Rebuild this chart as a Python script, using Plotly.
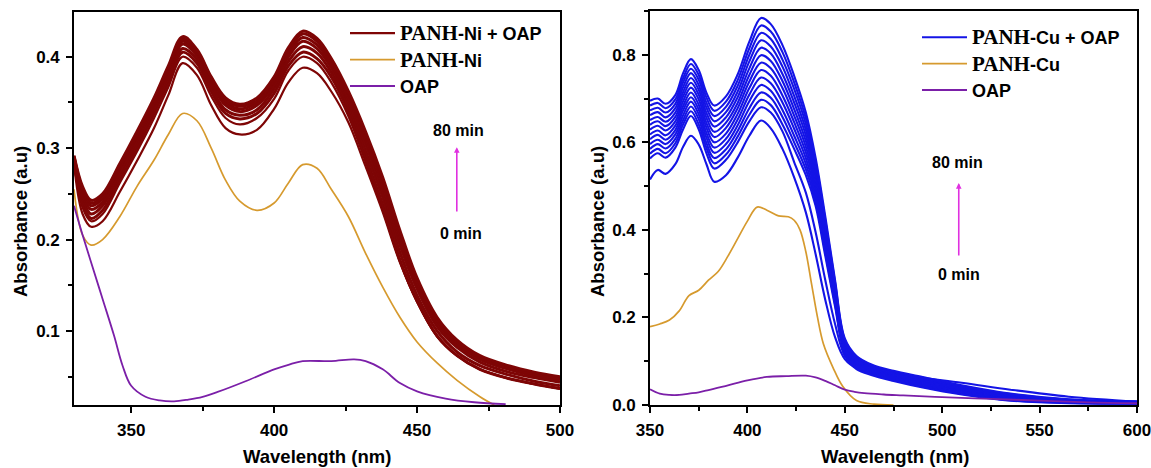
import plotly.graph_objects as go

# ---------------- data: PANH-Ni panel ----------------
# columns: wavelength, 0 min, next, then the dense band of later spectra (up to 80 min)
ni_spectra = [
    (330, 0.283, 0.285, 0.285, 0.287, 0.289, 0.290, 0.291, 0.292),
    (333, 0.228, 0.235, 0.240, 0.245, 0.249, 0.253, 0.255, 0.258),
    (336, 0.214, 0.220, 0.223, 0.228, 0.233, 0.237, 0.240, 0.243),
    (340, 0.220, 0.228, 0.232, 0.237, 0.241, 0.245, 0.247, 0.250),
    (346, 0.252, 0.262, 0.265, 0.270, 0.274, 0.278, 0.280, 0.283),
    (352, 0.286, 0.296, 0.300, 0.305, 0.309, 0.313, 0.315, 0.318),
    (358, 0.322, 0.333, 0.338, 0.342, 0.347, 0.350, 0.352, 0.355),
    (363, 0.358, 0.367, 0.372, 0.377, 0.381, 0.385, 0.387, 0.390),
    (368, 0.393, 0.400, 0.405, 0.409, 0.414, 0.417, 0.419, 0.422),
    (373, 0.380, 0.388, 0.393, 0.397, 0.401, 0.404, 0.406, 0.408),
    (378, 0.347, 0.357, 0.362, 0.366, 0.370, 0.373, 0.376, 0.378),
    (383, 0.322, 0.333, 0.338, 0.342, 0.347, 0.350, 0.352, 0.355),
    (388, 0.315, 0.326, 0.332, 0.336, 0.340, 0.343, 0.346, 0.348),
    (394, 0.320, 0.333, 0.338, 0.342, 0.347, 0.350, 0.352, 0.355),
    (400, 0.343, 0.354, 0.360, 0.365, 0.369, 0.373, 0.375, 0.378),
    (405, 0.372, 0.385, 0.390, 0.395, 0.400, 0.404, 0.407, 0.410),
    (410, 0.388, 0.400, 0.405, 0.411, 0.417, 0.421, 0.425, 0.428),
    (415, 0.382, 0.393, 0.398, 0.404, 0.409, 0.413, 0.417, 0.420),
    (420, 0.362, 0.372, 0.378, 0.383, 0.388, 0.392, 0.395, 0.398),
    (426, 0.328, 0.335, 0.340, 0.346, 0.351, 0.355, 0.359, 0.362),
    (432, 0.280, 0.285, 0.290, 0.297, 0.304, 0.310, 0.314, 0.318),
    (438, 0.230, 0.233, 0.238, 0.246, 0.253, 0.259, 0.264, 0.268),
    (444, 0.175, 0.176, 0.178, 0.186, 0.194, 0.200, 0.205, 0.210),
    (450, 0.132, 0.132, 0.133, 0.139, 0.146, 0.151, 0.154, 0.158),
    (457, 0.094, 0.094, 0.095, 0.100, 0.105, 0.109, 0.112, 0.115),
    (464, 0.073, 0.073, 0.073, 0.077, 0.082, 0.085, 0.087, 0.090),
    (472, 0.058, 0.058, 0.058, 0.062, 0.066, 0.069, 0.071, 0.073),
    (482, 0.048, 0.048, 0.048, 0.052, 0.055, 0.058, 0.060, 0.062),
    (491, 0.042, 0.042, 0.042, 0.045, 0.049, 0.051, 0.053, 0.055),
    (500, 0.037, 0.037, 0.037, 0.040, 0.044, 0.046, 0.048, 0.050),
]

ni_panh_wl = [330, 333, 336, 340, 346, 352, 358, 363, 368, 373, 378, 383, 388, 394,
              400, 405, 410, 415, 420, 426, 432, 438, 444, 450, 457, 464, 472, 477]
ni_panh = [0.255, 0.205, 0.194, 0.200, 0.225, 0.258, 0.287, 0.315, 0.338, 0.330, 0.300,
           0.265, 0.242, 0.232, 0.240, 0.262, 0.282, 0.278, 0.255, 0.225, 0.185, 0.148,
           0.115, 0.088, 0.065, 0.046, 0.028, 0.019]

oap_ni_wl = [330, 333, 336, 340, 344, 347, 350, 355, 360, 365, 370, 375, 380, 390, 400,
             405, 410, 420, 428, 432, 438, 444, 450, 460, 470, 481]
oap_ni = [0.237, 0.205, 0.175, 0.135, 0.095, 0.062, 0.040, 0.028, 0.024, 0.023, 0.025,
          0.028, 0.033, 0.045, 0.058, 0.063, 0.067, 0.067, 0.069, 0.067, 0.058, 0.043,
          0.034, 0.026, 0.022, 0.020]

# ---------------- data: PANH-Cu panel ----------------
# columns: wavelength, 0 min, then successive spectra up to 80 min
cu_spectra = [
    (350, 0.515, 0.563, 0.574, 0.585, 0.596, 0.607, 0.618, 0.629, 0.640, 0.651, 0.662, 0.673, 0.684, 0.695),
    (354, 0.537, 0.575, 0.585, 0.596, 0.606, 0.617, 0.627, 0.638, 0.648, 0.658, 0.669, 0.679, 0.690, 0.700),
    (358, 0.528, 0.565, 0.575, 0.586, 0.596, 0.606, 0.616, 0.627, 0.637, 0.647, 0.657, 0.668, 0.678, 0.688),
    (363, 0.550, 0.588, 0.598, 0.608, 0.618, 0.628, 0.638, 0.648, 0.658, 0.668, 0.678, 0.688, 0.698, 0.708),
    (367, 0.590, 0.630, 0.641, 0.651, 0.662, 0.673, 0.683, 0.694, 0.705, 0.715, 0.726, 0.737, 0.747, 0.758),
    (371, 0.615, 0.660, 0.671, 0.682, 0.693, 0.703, 0.714, 0.725, 0.736, 0.747, 0.758, 0.768, 0.779, 0.790),
    (375, 0.595, 0.630, 0.641, 0.653, 0.664, 0.675, 0.686, 0.698, 0.709, 0.720, 0.731, 0.743, 0.754, 0.765),
    (379, 0.550, 0.575, 0.587, 0.598, 0.610, 0.621, 0.633, 0.644, 0.656, 0.667, 0.679, 0.690, 0.702, 0.713),
    (383, 0.510, 0.540, 0.552, 0.564, 0.576, 0.588, 0.600, 0.612, 0.624, 0.636, 0.648, 0.660, 0.672, 0.684),
    (389, 0.525, 0.560, 0.572, 0.584, 0.596, 0.608, 0.620, 0.633, 0.645, 0.657, 0.669, 0.681, 0.693, 0.705),
    (395, 0.565, 0.600, 0.613, 0.626, 0.639, 0.652, 0.665, 0.678, 0.690, 0.703, 0.716, 0.729, 0.742, 0.755),
    (401, 0.615, 0.648, 0.663, 0.678, 0.694, 0.709, 0.724, 0.739, 0.754, 0.769, 0.785, 0.800, 0.815, 0.830),
    (407, 0.650, 0.680, 0.697, 0.714, 0.731, 0.748, 0.765, 0.782, 0.799, 0.816, 0.833, 0.850, 0.867, 0.884),
    (412, 0.632, 0.668, 0.685, 0.702, 0.718, 0.735, 0.752, 0.769, 0.786, 0.803, 0.819, 0.836, 0.853, 0.870),
    (418, 0.585, 0.625, 0.641, 0.658, 0.674, 0.691, 0.707, 0.724, 0.740, 0.756, 0.773, 0.789, 0.806, 0.822),
    (424, 0.520, 0.555, 0.585, 0.600, 0.615, 0.631, 0.646, 0.661, 0.676, 0.691, 0.706, 0.722, 0.737, 0.752),
    (430, 0.440, 0.485, 0.525, 0.538, 0.551, 0.564, 0.577, 0.590, 0.603, 0.616, 0.629, 0.642, 0.655, 0.668),
    (435, 0.345, 0.395, 0.455, 0.465, 0.475, 0.485, 0.495, 0.505, 0.515, 0.525, 0.535, 0.545, 0.555, 0.565),
    (440, 0.240, 0.285, 0.340, 0.348, 0.356, 0.365, 0.373, 0.381, 0.389, 0.397, 0.405, 0.414, 0.422, 0.430),
    (445, 0.155, 0.185, 0.225, 0.230, 0.236, 0.241, 0.247, 0.252, 0.258, 0.263, 0.269, 0.274, 0.280, 0.285),
    (450, 0.105, 0.112, 0.118, 0.121, 0.124, 0.127, 0.130, 0.133, 0.137, 0.140, 0.143, 0.146, 0.149, 0.152),
    (456, 0.085, 0.082, 0.085, 0.087, 0.090, 0.092, 0.095, 0.097, 0.100, 0.102, 0.105, 0.107, 0.110, 0.112),
    (464, 0.080, 0.068, 0.070, 0.072, 0.074, 0.076, 0.078, 0.080, 0.082, 0.084, 0.086, 0.088, 0.090, 0.092),
    (475, 0.072, 0.055, 0.057, 0.059, 0.061, 0.063, 0.065, 0.067, 0.068, 0.070, 0.072, 0.074, 0.076, 0.078),
    (490, 0.062, 0.040, 0.042, 0.044, 0.046, 0.048, 0.050, 0.052, 0.054, 0.056, 0.058, 0.060, 0.062, 0.064),
    (510, 0.051, 0.024, 0.026, 0.028, 0.029, 0.031, 0.033, 0.035, 0.036, 0.038, 0.040, 0.042, 0.043, 0.045),
    (535, 0.035, 0.010, 0.011, 0.013, 0.014, 0.015, 0.017, 0.018, 0.019, 0.021, 0.022, 0.023, 0.025, 0.026),
    (565, 0.019, 0.004, 0.005, 0.006, 0.006, 0.007, 0.008, 0.009, 0.009, 0.010, 0.011, 0.012, 0.012, 0.013),
    (600, 0.008, 0.003, 0.003, 0.004, 0.004, 0.005, 0.005, 0.005, 0.006, 0.006, 0.007, 0.007, 0.008, 0.008),
]

cu_panh_wl = [350, 355, 360, 365, 370, 375, 380, 385, 390, 395, 400, 405, 410, 416, 421,
              424, 427, 430, 433, 436, 439, 444, 449, 456, 465, 475]
cu_panh = [0.179, 0.185, 0.194, 0.215, 0.250, 0.262, 0.285, 0.305, 0.340, 0.380, 0.420,
           0.452, 0.445, 0.432, 0.430, 0.422, 0.400, 0.350, 0.275, 0.200, 0.140, 0.085,
           0.042, 0.010, 0.002, 0.000]

oap_cu_wl = [350, 355, 360, 365, 370, 375, 380, 390, 400, 410, 420, 430, 435, 440, 445,
             450, 455, 460, 470, 480, 500, 525, 550, 575, 600]
oap_cu = [0.036, 0.026, 0.023, 0.023, 0.026, 0.029, 0.034, 0.045, 0.056, 0.064, 0.066,
          0.067, 0.063, 0.055, 0.045, 0.035, 0.030, 0.027, 0.024, 0.022, 0.018, 0.014,
          0.010, 0.006, 0.004]

ni_x_ticks = [350, 400, 450, 500]
cu_x_ticks = [350, 400, 450, 500, 550, 600]

# ---------------- styles ----------------
MAROON = "#7E0505"
BLUE = "#1414E6"
ORANGE = "#D69A2E"
PURPLE = "#7B1FA8"
MAGENTA = "#E030E0"
SANS = "Liberation Sans"
SERIF = "Liberation Serif"


def serif(word):
    return f'<span style="font-family:{SERIF};font-size:21px">{word}</span>'


fig = go.Figure()

ni_wl = [r[0] for r in ni_spectra]
for k in range(1, len(ni_spectra[0])):
    fig.add_trace(go.Scatter(
        x=ni_wl, y=[r[k] for r in ni_spectra], mode="lines",
        line=dict(color=MAROON, width=2.2 if k <= 2 else 3.0, shape="spline", smoothing=1.0),
        name=serif("PANH") + "-Ni + OAP", legendgroup="ni", showlegend=(k == 1),
        xaxis="x", yaxis="y", legend="legend"))
fig.add_trace(go.Scatter(x=ni_panh_wl, y=ni_panh, mode="lines",
                         line=dict(color=ORANGE, width=1.7, shape="spline", smoothing=1.0),
                         name=serif("PANH") + "-Ni", xaxis="x", yaxis="y", legend="legend"))
fig.add_trace(go.Scatter(x=oap_ni_wl, y=oap_ni, mode="lines",
                         line=dict(color=PURPLE, width=1.8, shape="spline", smoothing=1.0),
                         name="OAP", xaxis="x", yaxis="y", legend="legend"))

cu_wl = [r[0] for r in cu_spectra]
for k in range(1, len(cu_spectra[0])):
    fig.add_trace(go.Scatter(
        x=cu_wl, y=[r[k] for r in cu_spectra], mode="lines",
        line=dict(color=BLUE, width=2.1, shape="spline", smoothing=1.0),
        name=serif("PANH") + "-Cu + OAP", legendgroup="cu", showlegend=(k == 1),
        xaxis="x2", yaxis="y2", legend="legend2"))
fig.add_trace(go.Scatter(x=cu_panh_wl, y=cu_panh, mode="lines",
                         line=dict(color=ORANGE, width=1.7, shape="spline", smoothing=1.0),
                         name=serif("PANH") + "-Cu", xaxis="x2", yaxis="y2", legend="legend2"))
fig.add_trace(go.Scatter(x=oap_cu_wl, y=oap_cu, mode="lines",
                         line=dict(color=PURPLE, width=1.8, shape="spline", smoothing=1.0),
                         name="OAP", xaxis="x2", yaxis="y2", legend="legend2"))

W, H = 1151, 468
axis_common = dict(
    showline=True, linecolor="black", linewidth=1.6, mirror=True,
    ticks="outside", ticklen=6, tickwidth=1.5, tickcolor="black",
    showgrid=False, zeroline=False, ticklabelstandoff=3, automargin=False,
    ticklabeloverflow="allow",
    tickfont=dict(family=SANS, size=17, color="black", weight="bold"),
)
minor = dict(ticks="outside", ticklen=4, tickwidth=1.5, tickcolor="black", showgrid=False)

fig.update_layout(
    width=W, height=H, margin=dict(l=0, r=0, t=0, b=0),
    paper_bgcolor="white", plot_bgcolor="white",
    xaxis=dict(domain=[74 / W, 560 / W], range=[330, 500], anchor="y",
               tickvals=ni_x_ticks, minor=dict(dtick=25, tick0=325, **minor), **axis_common),
    yaxis=dict(domain=[(H - 405) / H, (H - 12) / H], range=[0.019, 0.449], anchor="x",
               dtick=0.1, tick0=0, tickformat=".1f",
               minor=dict(dtick=0.05, tick0=0, **minor), **axis_common),
    xaxis2=dict(domain=[650 / W, 1137 / W], range=[350, 600], anchor="y2",
                tickvals=cu_x_ticks, minor=dict(dtick=25, tick0=325, **minor), **axis_common),
    yaxis2=dict(domain=[(H - 405) / H, (H - 11) / H], range=[0, 0.90], anchor="x2",
                dtick=0.2, tick0=0, tickformat=".1f",
                minor=dict(dtick=0.1, tick0=0, **minor), **axis_common),
    legend=dict(x=345 / W, y=1 - 15 / H, xanchor="left", yanchor="top",
                bgcolor="rgba(0,0,0,0)", tracegroupgap=0, itemwidth=45,
                font=dict(family=SANS, size=18, color="black", weight="bold")),
    legend2=dict(x=917 / W, y=1 - 19 / H, xanchor="left", yanchor="top",
                 bgcolor="rgba(0,0,0,0)", tracegroupgap=0, itemwidth=45,
                 font=dict(family=SANS, size=18, color="black", weight="bold")),
)

title_font = dict(family=SANS, size=18.5, color="black", weight="bold")
label_font = dict(family=SANS, size=16, color="black", weight="bold")
center = dict(xanchor="center", yanchor="middle")
annotations = [
    dict(text="Absorbance (a.u)", x=20 / W, y=1 - 222 / H, xref="paper", yref="paper",
         textangle=-90, showarrow=False, font=title_font, **center),
    dict(text="Absorbance (a.u)", x=597 / W, y=1 - 222 / H, xref="paper", yref="paper",
         textangle=-90, showarrow=False, font=title_font, **center),
    dict(text="Wavelength (nm)", x=317 / W, y=1 - 456 / H, xref="paper", yref="paper",
         showarrow=False, font=title_font, **center),
    dict(text="Wavelength (nm)", x=895 / W, y=1 - 456 / H, xref="paper", yref="paper",
         showarrow=False, font=title_font, **center),
    # time labels & arrows (left panel)
    dict(text="80 min", x=464.6, y=0.319, xref="x", yref="y", showarrow=False, font=label_font, **center),
    dict(text="0 min", x=465.3, y=0.207, xref="x", yref="y", showarrow=False, font=label_font, **center),
    dict(text="", x=463.9, y=0.301, ax=463.9, ay=0.229, xref="x", yref="y", axref="x", ayref="y",
         showarrow=True, arrowhead=2, arrowsize=0.7, arrowwidth=1.6, arrowcolor=MAGENTA),
    # time labels & arrows (right panel)
    dict(text="80 min", x=508.0, y=0.553, xref="x2", yref="y2", showarrow=False, font=label_font, **center),
    dict(text="0 min", x=508.5, y=0.297, xref="x2", yref="y2", showarrow=False, font=label_font, **center),
    dict(text="", x=508.5, y=0.507, ax=508.5, ay=0.338, xref="x2", yref="y2", axref="x2", ayref="y2",
         showarrow=True, arrowhead=2, arrowsize=0.7, arrowwidth=1.6, arrowcolor=MAGENTA),
]
fig.update_layout(annotations=annotations)

fig.write_html("out.html")
